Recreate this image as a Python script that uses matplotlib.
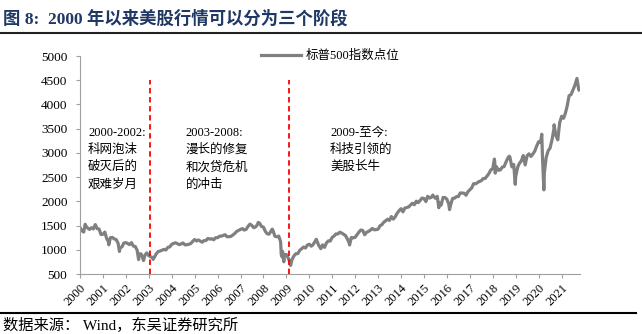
import matplotlib.pyplot as plt
import numpy as np
import pandas as pd

plt.rcParams['font.family'] = ['Liberation Serif', 'Noto Sans CJK SC']

# S&P 500 month-end closes, 2000-2021
monthly = {
    2000: [1394.46, 1366.42, 1498.58, 1452.43, 1420.60, 1454.60, 1430.83, 1517.68, 1436.51, 1429.40, 1314.95, 1320.28],
    2001: [1366.01, 1239.94, 1160.33, 1249.46, 1255.82, 1224.42, 1211.23, 1133.58, 1040.94, 1059.78, 1139.45, 1148.08],
    2002: [1130.20, 1106.73, 1147.39, 1076.92, 1067.14, 989.82, 911.62, 916.07, 815.28, 885.76, 936.31, 879.82],
    2003: [855.70, 841.15, 848.18, 916.92, 963.59, 974.50, 990.31, 1008.01, 995.97, 1050.71, 1058.20, 1111.92],
    2004: [1131.13, 1144.94, 1126.21, 1107.30, 1120.68, 1140.84, 1101.72, 1104.24, 1114.58, 1130.20, 1173.82, 1211.92],
    2005: [1181.27, 1203.60, 1180.59, 1156.85, 1191.50, 1191.33, 1234.18, 1220.33, 1228.81, 1207.01, 1249.48, 1248.29],
    2006: [1280.08, 1280.66, 1294.83, 1310.61, 1270.09, 1270.20, 1276.66, 1303.82, 1335.85, 1377.94, 1400.63, 1418.30],
    2007: [1438.24, 1406.82, 1420.86, 1482.37, 1530.62, 1503.35, 1455.27, 1473.99, 1526.75, 1549.38, 1481.14, 1468.36],
    2008: [1378.55, 1330.63, 1322.70, 1385.59, 1400.38, 1280.00, 1267.38, 1282.83, 1166.36, 968.75, 896.24, 903.25],
    2009: [825.88, 735.09, 797.87, 872.81, 919.14, 919.32, 987.48, 1020.62, 1057.08, 1036.19, 1095.63, 1115.10],
    2010: [1073.87, 1104.49, 1169.43, 1186.69, 1089.41, 1030.71, 1101.60, 1049.33, 1141.20, 1183.26, 1180.55, 1257.64],
    2011: [1286.12, 1327.22, 1325.83, 1363.61, 1345.20, 1320.64, 1292.28, 1218.89, 1131.42, 1253.30, 1246.96, 1257.60],
    2012: [1312.41, 1365.68, 1408.47, 1397.91, 1310.33, 1362.16, 1379.32, 1406.58, 1440.67, 1412.16, 1416.18, 1426.19],
    2013: [1498.11, 1514.68, 1569.19, 1597.57, 1630.74, 1606.28, 1685.73, 1632.97, 1681.55, 1756.54, 1805.81, 1848.36],
    2014: [1782.59, 1859.45, 1872.34, 1883.95, 1923.57, 1960.23, 1930.67, 2003.37, 1972.29, 2018.05, 2067.56, 2058.90],
    2015: [1994.99, 2104.50, 2067.89, 2085.51, 2107.39, 2063.11, 2103.84, 1972.18, 1920.03, 2079.36, 2080.41, 2043.94],
    2016: [1940.24, 1932.23, 2059.74, 2065.30, 2096.95, 2098.86, 2173.60, 2170.95, 2168.27, 2126.15, 2198.81, 2238.83],
    2017: [2278.87, 2363.64, 2362.72, 2384.20, 2411.80, 2423.41, 2470.30, 2471.65, 2519.36, 2575.26, 2647.58, 2673.61],
    2018: [2823.81, 2713.83, 2640.87, 2648.05, 2705.27, 2718.37, 2816.29, 2901.52, 2913.98, 2711.74, 2760.17, 2506.85],
    2019: [2704.10, 2784.49, 2834.40, 2945.83, 2752.06, 2941.76, 2980.38, 2926.46, 2976.74, 3037.56, 3140.98, 3230.78],
    2020: [3225.52, 2954.22, 2584.59, 2912.43, 3044.31, 3100.29, 3271.12, 3500.31, 3363.00, 3269.96, 3621.63, 3756.07],
    2021: [3714.24, 3811.15, 3972.89, 4181.17, 4204.11, 4297.50, 4395.26, 4522.68, 4307.54],
}

# intra-month closing highs and lows
extreme_dates = ['2000-01-03', '2000-03-24', '2000-09-01', '2001-04-04', '2001-09-21',
                 '2002-07-23', '2002-10-09', '2003-03-11', '2007-10-09', '2008-05-19',
                 '2008-10-10', '2008-10-27', '2008-11-20', '2009-03-09', '2010-04-23',
                 '2010-07-02', '2011-10-03', '2015-05-21', '2015-08-25', '2016-02-11',
                 '2018-01-26', '2018-02-08', '2018-09-20', '2018-12-24', '2020-02-19',
                 '2020-03-23', '2020-09-02', '2021-09-02', '2021-10-04']
extreme_values = [1455.22, 1527.46, 1520.77, 1103.25, 965.80,
                  797.70, 776.76, 800.73, 1565.15, 1426.63,
                  899.22, 848.92, 752.44, 676.53, 1217.28,
                  1022.58, 1099.23, 2130.82, 1867.61, 1829.08,
                  2872.87, 2581.00, 2930.75, 2351.10, 3386.15,
                  2237.40, 3580.84, 4536.95, 4300.46]

years = list(range(2000, 2022))
split_years = [2003.05, 2009.1]
phase_labels = ['2000-2002:\n科网泡沫\n破灭后的\n艰难岁月',
                '2003-2008:\n漫长的修复\n和次贷危机\n的冲击',
                '2009-至今:\n科技引领的\n美股长牛']

dates, values = [], []
for y, vals in monthly.items():
    for m, v in enumerate(vals):
        dates.append(pd.Timestamp(y, m + 1, 1) + pd.offsets.MonthEnd(0))
        values.append(v)
dates += list(pd.to_datetime(extreme_dates))
values += extreme_values

df = pd.DataFrame({'date': dates, 'spx': values}).sort_values('date')
df['t'] = df['date'].dt.year + (df['date'].dt.dayofyear - 1) / 365.25

fig = plt.figure(figsize=(6.42, 3.34), dpi=100)
ax = fig.add_axes([0.1246, 0.1796, 0.7788, 0.6527])

ax.plot(df['t'], df['spx'], color='#808080', lw=2.3, label='标普500指数点位')
for x in split_years:
    ax.plot([x, x], [500, 4500], color='#ff0000', lw=1.3, ls=(0, (3, 2)))

ax.set_xlim(2000, 2021.8)
ax.set_ylim(500, 5000)
ax.set_yticks(np.arange(500, 5001, 500))
ax.set_xticks(years)
ax.set_xticklabels([str(y) for y in years], rotation=45, ha='right',
                   rotation_mode='anchor', fontsize=9)
ax.tick_params(axis='y', labelsize=9.5, length=3, color='#a0a0a0', pad=6)
ax.tick_params(axis='x', length=3, color='#a0a0a0', pad=3)
for s in ['top', 'right']:
    ax.spines[s].set_visible(False)
for s in ['left', 'bottom']:
    ax.spines[s].set_color('#a0a0a0')

text_x = [2000.35, 2004.6, 2010.9]
for x, lab in zip(text_x, phase_labels):
    ax.text(x, 3540, lab, fontsize=9, va='top', ha='left', linespacing=1.55)

ax.legend(loc='center', bbox_to_anchor=(0.5, 1.0), frameon=False, fontsize=9,
          handlelength=3.2, handletextpad=0.4)

fig.text(0.004, 0.945, '图 8:  2000 年以来美股行情可以分为三个阶段', fontsize=12.5,
         fontweight='bold', color='#1f3864', va='center', ha='left')
fig.add_artist(plt.Line2D([0, 1], [0.9, 0.9], color='#222222', lw=1.5))
fig.add_artist(plt.Line2D([0, 0.99], [0.063, 0.063], color='#000000', lw=1.5))
fig.text(0.004, 0.026, '数据来源： Wind，东吴证券研究所', fontsize=11,
         va='center', ha='left')

fig.savefig('out.png', dpi=100)
